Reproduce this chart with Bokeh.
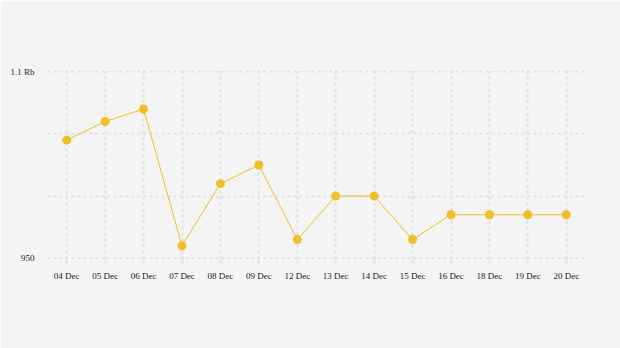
from bokeh.plotting import figure
from bokeh.models import FixedTicker, Range1d, FactorRange
from bokeh.embed import file_html
from bokeh.resources import INLINE

dates = ["04 Dec", "05 Dec", "06 Dec", "07 Dec", "08 Dec", "09 Dec", "12 Dec",
         "13 Dec", "14 Dec", "15 Dec", "16 Dec", "18 Dec", "19 Dec", "20 Dec"]
values = [1045, 1060, 1070, 960, 1010, 1025, 965, 1000, 1000, 965, 985, 985, 985, 985]
y_ticks = [950, 1000, 1050, 1100]
y_labels = {950: "950", 1000: "", 1050: "", 1100: "1.1 Rb"}

bg = "#f4f4f4"
gold = "#f0bf27"
grid_c = "#e0e0e0"
font = "Liberation Serif"
text_c = "#222222"

p = figure(width=620, height=348, output_backend="svg", toolbar_location=None,
           x_range=FactorRange(*dates, range_padding=0),
           y_range=Range1d(949, 1101),
           min_border_left=47, min_border_right=35, min_border_top=70, min_border_bottom=89)
p.background_fill_color = bg
p.border_fill_color = bg
p.outline_line_color = None

p.line(dates, values, line_color=gold, line_width=1)
p.scatter(dates, values, size=9, fill_color=gold, line_color=None)

p.yaxis.ticker = FixedTicker(ticks=y_ticks)
p.yaxis.major_label_overrides = y_labels
p.yaxis.axis_line_color = None
p.yaxis.major_tick_line_color = None
p.yaxis.minor_tick_line_color = None
p.yaxis.major_label_standoff = 7
p.yaxis.major_label_text_font = font
p.yaxis.major_label_text_font_size = "9px"
p.yaxis.major_label_text_color = text_c

p.xaxis.axis_line_color = None
p.xaxis.major_tick_line_color = grid_c
p.xaxis.major_tick_line_width = 2
p.xaxis.major_tick_line_dash = "3 3"
p.xaxis.major_tick_in = 0
p.xaxis.major_tick_out = 4
p.xaxis.major_label_standoff = 7
p.xaxis.major_label_text_font = font
p.xaxis.major_label_text_font_size = "9px"
p.xaxis.major_label_text_color = text_c

for g in (p.xgrid, p.ygrid):
    g.grid_line_color = grid_c
    g.grid_line_dash = "3 3"
    g.grid_line_width = 2

open("out.html", "w").write(file_html(p, INLINE))
